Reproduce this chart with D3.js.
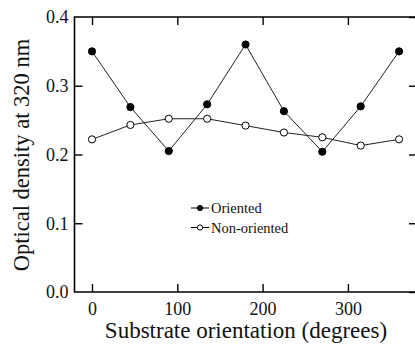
<!DOCTYPE html>
<html>
<head>
<meta charset="utf-8">
<script src="https://cdn.jsdelivr.net/npm/d3@7"></script>
<style>
  body { margin: 0; background: #fff; }
  svg text { font-family: "Liberation Serif", "Times New Roman", serif; fill: #111; }
</style>
</head>
<body>
<svg id="chart" width="415" height="345"></svg>
<script>
// data
var angles = [0, 45, 90, 135, 180, 225, 270, 315, 360];
var oriented = [0.350, 0.269, 0.205, 0.273, 0.360, 0.263, 0.204, 0.270, 0.350];
var nonOriented = [0.222, 0.243, 0.252, 0.252, 0.242, 0.232, 0.225, 0.213, 0.222];
var xTicks = [0, 100, 200, 300];
var yTicks = [0.0, 0.1, 0.2, 0.3, 0.4];

var svg = d3.select("svg#chart");

var plotLeft = 74.5, plotRight = 417, plotTop = 17, plotBottom = 292;

var x = d3.scaleLinear().domain([0, 100]).range([92, 177.3]);
var y = d3.scaleLinear().domain([0, 0.4]).range([plotBottom, plotTop]);

// frame
svg.append("path")
  .attr("d", "M" + plotRight + "," + plotTop + "H" + plotLeft + "V" + plotBottom + "H" + plotRight)
  .attr("fill", "none")
  .attr("stroke", "#000")
  .attr("stroke-width", 1.6);

// bottom axis, ticks inward
var xAxis = svg.append("g")
  .attr("transform", "translate(0," + plotBottom + ")")
  .call(d3.axisBottom(x).tickValues(xTicks).tickSize(-8).tickPadding(10).tickFormat(d3.format("d")));
xAxis.select(".domain").remove();

// top ticks
var xTop = svg.append("g")
  .attr("transform", "translate(0," + plotTop + ")")
  .call(d3.axisTop(x).tickValues(xTicks).tickSize(-8).tickFormat(""));
xTop.select(".domain").remove();

// left axis, ticks inward
var yAxis = svg.append("g")
  .attr("transform", "translate(" + plotLeft + ",0)")
  .call(d3.axisLeft(y).tickValues(yTicks).tickSize(-8).tickPadding(6).tickFormat(d3.format(".1f")));
yAxis.select(".domain").remove();
yAxis.selectAll(".tick line").filter(d => d == 0 || d == 0.4).remove();

// right ticks
var yRight = svg.append("g")
  .attr("transform", "translate(" + plotRight + ",0)")
  .call(d3.axisRight(y).tickValues(yTicks).tickSize(-8).tickFormat(""));
yRight.select(".domain").remove();

svg.selectAll(".tick line").attr("stroke-width", 1.4);
svg.selectAll(".tick text")
  .style("font-family", "'Liberation Serif', 'Times New Roman', serif")
  .style("font-size", "18px");

// axis titles
svg.append("text")
  .attr("x", 246)
  .attr("y", 338)
  .attr("text-anchor", "middle")
  .attr("font-size", 23)
  .text("Substrate orientation (degrees)");

svg.append("text")
  .attr("transform", "translate(29,155) rotate(-90)")
  .attr("text-anchor", "middle")
  .attr("font-size", 22.5)
  .text("Optical density at 320 nm");

// series
var line = d3.line()
  .x(d => x(d[0]))
  .y(d => y(d[1]));

var series = [
  { name: "Oriented", values: d3.zip(angles, oriented), fill: "#000" },
  { name: "Non-oriented", values: d3.zip(angles, nonOriented), fill: "#fff" }
];

series.forEach(function(s){
  svg.append("path")
    .datum(s.values)
    .attr("d", line)
    .attr("fill", "none")
    .attr("stroke", "#222")
    .attr("stroke-width", 1);

  svg.selectAll(null)
    .data(s.values)
    .enter().append("circle")
    .attr("cx", d => x(d[0]))
    .attr("cy", d => y(d[1]))
    .attr("r", 3.6)
    .attr("fill", s.fill)
    .attr("stroke", "#000")
    .attr("stroke-width", 1);
});

// legend
var legend = svg.selectAll("g.legend")
  .data(series)
  .enter().append("g")
  .attr("class", "legend")
  .attr("transform", (d, i) => "translate(191," + (208 + i * 19.5) + ")");

legend.append("line")
  .attr("x1", 0).attr("x2", 18)
  .attr("stroke", "#000")
  .attr("stroke-width", 1);

legend.append("circle")
  .attr("cx", 9)
  .attr("r", 2.6)
  .attr("fill", d => d.fill)
  .attr("stroke", "#000")
  .attr("stroke-width", 1);

legend.append("text")
  .attr("x", 20)
  .attr("y", 5)
  .attr("font-size", 14.5)
  .text(d => d.name);
</script>
</body>
</html>
